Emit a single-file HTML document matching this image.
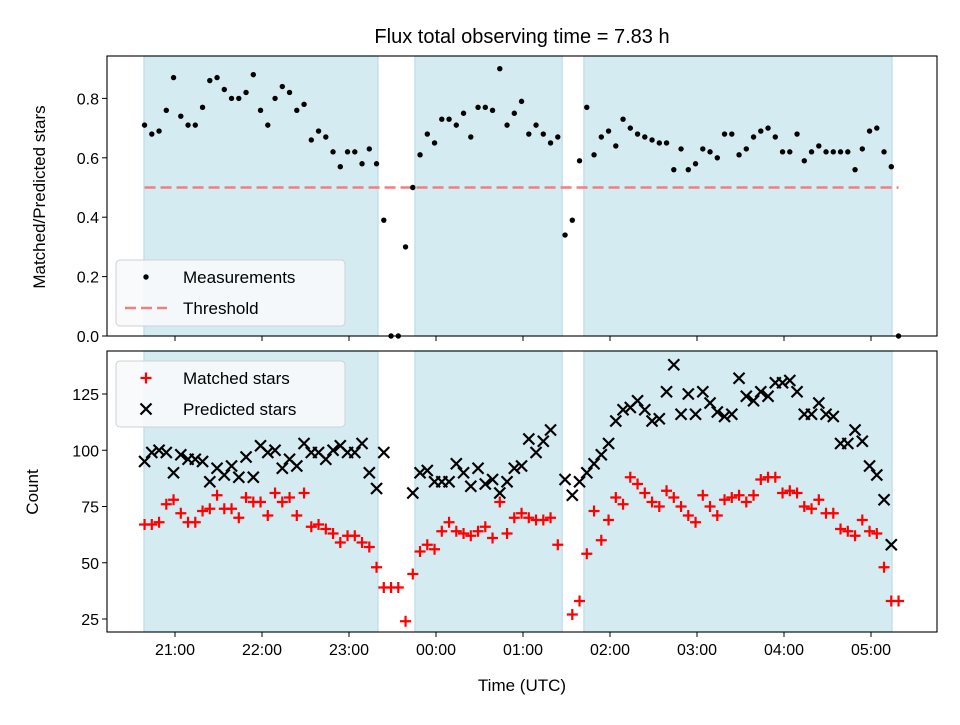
<!DOCTYPE html>
<html><head><meta charset="utf-8"><style>
body{margin:0;background:#fff}
svg text{font-family:"Liberation Sans","DejaVu Sans",sans-serif;fill:#000}
</style></head><body>
<svg id="chart" width="960" height="720" viewBox="0 0 960 720" xmlns="http://www.w3.org/2000/svg">
<rect width="960" height="720" fill="#fff"/>
<text x="522" y="43" font-size="20" text-anchor="middle">Flux total observing time = 7.83 h</text>
<g id="topPanel"></g>
<g id="botPanel"></g>
<text x="522" y="691" font-size="17" text-anchor="middle">Time (UTC)</text>
<text transform="translate(45,197) rotate(-90)" font-size="17" text-anchor="middle">Matched/Predicted stars</text>
<text transform="translate(38,492) rotate(-90)" font-size="17" text-anchor="middle">Count</text>
</svg>
<script>
// minutes since 20:00 UTC
const times=[39,44,49,54,59,64,69,74,79,84,89,94,99,104,109,114,119,124,129,134,139,144,149,154,159,164,169,174,179,184,189,194,199,204,209,214,219,224,229,234,239,244,249,254,259,264,269,274,279,284,289,294,299,304,309,314,319,324,329,334,339,344,349,354,359,364,369,374,379,384,389,394,399,404,409,414,419,424,429,434,439,444,449,454,459,464,469,474,479,484,489,494,499,504,509,514,519,524,529,534,539,544,549,554,559];
const ratio=[0.71,0.68,0.69,0.76,0.87,0.74,0.71,0.71,0.77,0.86,0.87,0.83,0.80,0.80,0.82,0.88,0.76,0.71,0.80,0.84,0.82,0.76,0.78,0.66,0.69,0.67,0.62,0.57,0.62,0.62,0.58,0.63,0.58,0.39,0.0,0.0,0.30,0.50,0.61,0.68,0.65,0.73,0.73,0.71,0.75,0.67,0.77,0.77,0.76,0.90,0.71,0.75,0.79,0.68,0.71,0.68,0.65,0.67,0.34,0.39,0.59,0.77,0.61,0.67,0.69,0.64,0.73,0.70,0.68,0.67,0.66,0.65,0.65,0.56,0.63,0.56,0.58,0.63,0.62,0.60,0.68,0.68,0.61,0.63,0.67,0.69,0.70,0.67,0.62,0.62,0.68,0.59,0.62,0.64,0.62,0.62,0.62,0.62,0.56,0.63,0.69,0.70,0.62,0.57,0.0];
const matched=[67,67,68,76,78,72,68,68,73,74,80,74,74,70,79,77,77,71,81,77,79,71,81,66,67,65,63,59,62,62,59,57,48,39,39,39,24,45,55,58,56,64,68,64,63,62,64,66,61,77,63,70,72,70,69,69,70,58,null,27,33,54,73,60,69,79,76,88,85,81,77,75,82,79,75,71,68,80,75,71,78,79,80,77,80,87,88,88,81,82,81,75,74,78,72,72,65,64,62,69,64,63,48,33,33];
const predicted=[95,99,100,99,90,98,96,96,95,86,92,89,93,88,97,88,102,99,100,92,96,93,103,99,99,96,100,102,99,99,103,90,83,99,null,null,null,81,90,91,86,86,86,94,90,84,92,85,87,81,86,92,93,105,99,104,109,null,87,80,86,90,94,98,103,113,118,119,122,118,113,114,126,138,116,125,116,126,121,117,115,116,132,124,122,126,124,130,130,131,126,116,116,121,116,115,103,103,109,104,93,89,78,58,null];
const threshold=0.5;
const observingBlocks=[[38.6,200],[225.5,327],[342,554.5]];
const xTickMinutes=[60,120,180,240,300,360,420,480,540];
const xTickLabels=["21:00","22:00","23:00","00:00","01:00","02:00","03:00","04:00","05:00"];
const topTicks=[0,0.2,0.4,0.6,0.8];
const botTicks=[25,50,75,100,125];

const NS="http://www.w3.org/2000/svg";
const L=107,R=937;
const xs=m=>175+(m-60)*87/60;
const yTop=v=>336-v*297;
const yBot=v=>619-(v-25)*2.25;
function mk(p,tag,at){const e=document.createElementNS(NS,tag);for(const k in at)e.setAttribute(k,at[k]);p.appendChild(e);return e;}
function panel(g,y0,y1,ys,ticks,fmt,showX,prefix){
  observingBlocks.forEach(b=>{
    const r=mk(g,'rect',{x:xs(b[0]),y:y0,width:xs(b[1])-xs(b[0]),height:y1-y0,fill:'#d5ebf2',stroke:'#bcdde8','stroke-width':1.2});
    
    
  });
  ticks.forEach((t,i)=>{
    const y=ys(t);
    const l=mk(g,'line',{x1:L-5,x2:L,y1:y,y2:y,stroke:'#000','stroke-width':1});
    
    
    const tx=mk(g,'text',{x:L-8,y:y+6,'font-size':16,'text-anchor':'end'});
    tx.textContent=fmt(t);
    
    
  });
  xTickMinutes.forEach((m,i)=>{
    const x=xs(m);
    const l=mk(g,'line',{x1:x,x2:x,y1:y1,y2:y1+5,stroke:'#000','stroke-width':1});
    
    
    if(showX){
      const tx=mk(g,'text',{x:x,y:y1+23,'font-size':16,'text-anchor':'middle'});
      tx.textContent=xTickLabels[i];
      
      
    }
  });
}
const topG=document.getElementById('topPanel'),botG=document.getElementById('botPanel');
panel(topG,56,336,yTop,topTicks,t=>t.toFixed(1),false,'top');
panel(botG,351,632,yBot,botTicks,t=>String(t),true,'bottom');
const th=mk(topG,'line',{x1:xs(times[0]),x2:xs(times[times.length-1]),y1:yTop(threshold),y2:yTop(threshold),stroke:'#f08080','stroke-width':2.6,'stroke-dasharray':'11 5'});


ratio.forEach((v,i)=>{
  if(v===null)return;
  const c=mk(topG,'circle',{cx:xs(times[i]),cy:yTop(v),r:2.7,fill:'#000'});
  
  
});
matched.forEach((v,i)=>{
  if(v===null)return;
  const x=xs(times[i]),y=yBot(v);
  const p=mk(botG,'path',{d:`M${x-5.5},${y}H${x+5.5}M${x},${y-5.5}V${y+5.5}`,stroke:'#ff0000','stroke-width':2.2});
  
  
});
predicted.forEach((v,i)=>{
  if(v===null)return;
  const x=xs(times[i]),y=yBot(v);
  const p=mk(botG,'path',{d:`M${x-5.5},${y-5.5}L${x+5.5},${y+5.5}M${x-5.5},${y+5.5}L${x+5.5},${y-5.5}`,stroke:'#000','stroke-width':2.2});
  
  
});
[[topG,56,336],[botG,351,632]].forEach(([g,a,b])=>{
  const f=mk(g,'rect',{x:L,y:a,width:R-L,height:b-a,fill:'none',stroke:'#000','stroke-width':1.1});
  
  
});
function legend(g,y0,items,name){
  const lg=mk(g,'g',{});
  
  
  mk(lg,'rect',{x:116,y:y0,width:229,height:66,rx:4,fill:'#f7fafc','fill-opacity':0.9,stroke:'#d0d0d0','stroke-width':1});
  items.forEach((it,k)=>{
    const cy=y0+17+k*31;
    it.draw(lg,146,cy);
    const t=mk(lg,'text',{x:183,y:cy+6,'font-size':17});
    t.textContent=it.label;
    
    
  });
}
legend(topG,260,[
 {label:'Measurements',draw:(g,x,y)=>mk(g,'circle',{cx:x,cy:y,r:2.7,fill:'#000'})},
 {label:'Threshold',draw:(g,x,y)=>mk(g,'line',{x1:x-21,x2:x+21,y1:y,y2:y,stroke:'#f08080','stroke-width':2.6,'stroke-dasharray':'11 5'})}
],'top-legend');
legend(botG,361,[
 {label:'Matched stars',draw:(g,x,y)=>mk(g,'path',{d:`M${x-5.5},${y}H${x+5.5}M${x},${y-5.5}V${y+5.5}`,stroke:'#ff0000','stroke-width':2.2})},
 {label:'Predicted stars',draw:(g,x,y)=>mk(g,'path',{d:`M${x-5.5},${y-5.5}L${x+5.5},${y+5.5}M${x-5.5},${y+5.5}L${x+5.5},${y-5.5}`,stroke:'#000','stroke-width':2.2})}
],'bottom-legend');
</script>
</body></html>
